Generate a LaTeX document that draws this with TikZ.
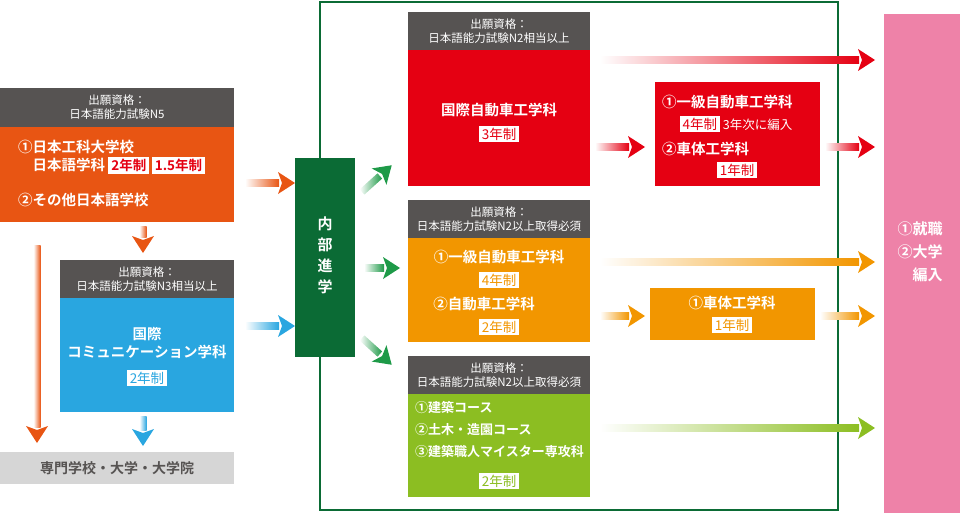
\documentclass[tikz,border=0pt]{standalone}
\usepackage{fontspec}
\setmainfont{Noto Sans CJK JP}
\newfontfamily\jpb{Noto Sans CJK JP Bold}
\definecolor{hdr}{HTML}{565352}
\definecolor{cor}{HTML}{E85513}
\definecolor{cbl}{HTML}{29A6E0}
\definecolor{cred}{HTML}{E50012}
\definecolor{cyel}{HTML}{F29600}
\definecolor{cgy}{HTML}{8CBE22}
\definecolor{cgr}{HTML}{0B6B35}
\definecolor{cpk}{HTML}{EE82A8}
\definecolor{cgray}{HTML}{D6D6D6}
\definecolor{carr}{HTML}{1E9A48}
\newcommand{\garrow}[5]{% x,y,angle,length,color
\begin{scope}[shift={(#1,#2)},rotate=#3]
\shade[left color=white,right color=#5,draw=none] (0,-3.5) rectangle (#4-16,3.5);
\fill[#5] (#4-17,-11) -- (#4,0) -- (#4-17,11) -- (#4-13,0) -- cycle;
\end{scope}}
\newcommand{\badge}[2]{\tikz[baseline=(b.base)]\node[fill=white,text=#1,inner xsep=3pt,inner ysep=2pt,font=\fontsize{13.5}{14}\selectfont](b){#2};}
\tikzset{x=1pt,y=-1pt,
 hd/.style={fill=hdr,text=white,align=center,font=\fontsize{11.5}{14}\selectfont,inner sep=0pt},
 bx/.style={text=white,align=center,font=\jpb\fontsize{14.5}{18}\selectfont,inner sep=0pt}}
\begin{document}
\begin{tikzpicture}
\useasboundingbox (0,0) rectangle (960,513);
% frame
\draw[cgr,line width=2pt] (320,2) rectangle (838,510);
% pink
\fill[cpk] (884,14) rectangle (960,513);
\node[bx,align=left,font=\jpb\fontsize{15}{23}\selectfont] (pk) at (920,252) {①就職\\②大学\\\hspace{1em}編入};
% left orange
\fill[hdr] (0,88) rectangle (234,127);
\node[hd] (h1) at (117,107.5) {出願資格：\\日本語能力試験N5};
\fill[cor] (0,127) rectangle (234,222);
\node[bx,align=left,anchor=west] (o1) at (18,157) {①日本工科大学校\\\hspace{1em}日本語学科 \badge{cred}{2年制}\,\badge{cred}{1.5年制}};
\node[bx,anchor=west] (o2) at (18,200) {②その他日本語学校};
% blue
\fill[hdr] (60,260) rectangle (234,298);
\node[hd] (h2) at (147,279) {出願資格：\\日本語能力試験N3相当以上};
\fill[cbl] (60,298) rectangle (234,412);
\node[bx] (b1) at (147,343) {国際\\コミュニケーション学科};
\node (b2) at (147,378) {\badge{cbl}{2年制}};
% bottom gray
\fill[cgray] (0,452) rectangle (234,484);
\node[font=\jpb\fontsize{14}{15}\selectfont,text=hdr] (bt) at (117,468) {専門学校・大学・大学院};
% left arrows
\garrow{143}{226}{-90}{27}{cor}
\garrow{37}{245}{-90}{198}{cor}
\garrow{143}{416}{-90}{30}{cbl}
\garrow{245}{183}{0}{50}{cor}
\garrow{245}{326}{0}{50}{cbl}
% internal
\fill[cgr] (295,158) rectangle (355,357);
\node[bx,font=\jpb\fontsize{15}{21}\selectfont] (in) at (325,255) {内\\部\\進\\学};
\garrow{362}{192}{42}{40}{carr}
\garrow{364}{268}{0}{36}{carr}
\garrow{362}{338}{-42}{40}{carr}
% red section
\fill[hdr] (408,12) rectangle (590,50);
\node[hd] (h3) at (499,31) {出願資格：\\日本語能力試験N2相当以上};
\fill[cred] (408,50) rectangle (590,186);
\node[bx] (r1) at (499,110) {国際自動車工学科};
\node (r2) at (499,134) {\badge{cred}{3年制}};
\fill[cred] (655,82) rectangle (820,186);
\node[bx,anchor=west] (r3) at (662,102) {①一級自動車工学科};
\node[anchor=west,font=\fontsize{12.5}{13}\selectfont,text=white] (r4) at (676,124) {\badge{cred}{4年制}\ 3年次に編入};
\node[bx,anchor=west] (r5) at (662,149) {②車体工学科};
\node (r6) at (737,170) {\badge{cred}{1年制}};
\garrow{600}{60}{0}{275}{cred}
\garrow{595}{147}{0}{50}{cred}
\garrow{825}{147}{0}{50}{cred}
% orange section
\fill[hdr] (408,200) rectangle (590,238);
\node[hd] (h4) at (499,219) {出願資格：\\日本語能力試験N2以上取得必須};
\fill[cyel] (408,238) rectangle (590,342);
\node[bx] (y1) at (499,257) {①一級自動車工学科};
\node (y2) at (499,280) {\badge{cyel}{4年制}};
\node[bx] (y3) at (484,304) {②自動車工学科};
\node (y4) at (499,327) {\badge{cyel}{2年制}};
\fill[cyel] (650,288) rectangle (815,340);
\node[bx] (y5) at (732,303) {①車体工学科};
\node (y6) at (732,325) {\badge{cyel}{1年制}};
\garrow{600}{262}{0}{275}{cyel}
\garrow{600}{316}{0}{45}{cyel}
\garrow{820}{316}{0}{55}{cyel}
% green section
\fill[hdr] (408,356) rectangle (590,394);
\node[hd] (h5) at (499,375) {出願資格：\\日本語能力試験N2以上取得必須};
\fill[cgy] (408,394) rectangle (590,497);
\node[bx,align=left,anchor=north west,font=\jpb\fontsize{13}{22}\selectfont] (g1) at (415,401) {①建築コース\\②土木・造園コース\\③建築職人マイスター専攻科};
\node (g2) at (499,481) {\badge{cgy}{2年制}};
\garrow{600}{428}{0}{275}{cgy}
\end{tikzpicture}
\end{document}
